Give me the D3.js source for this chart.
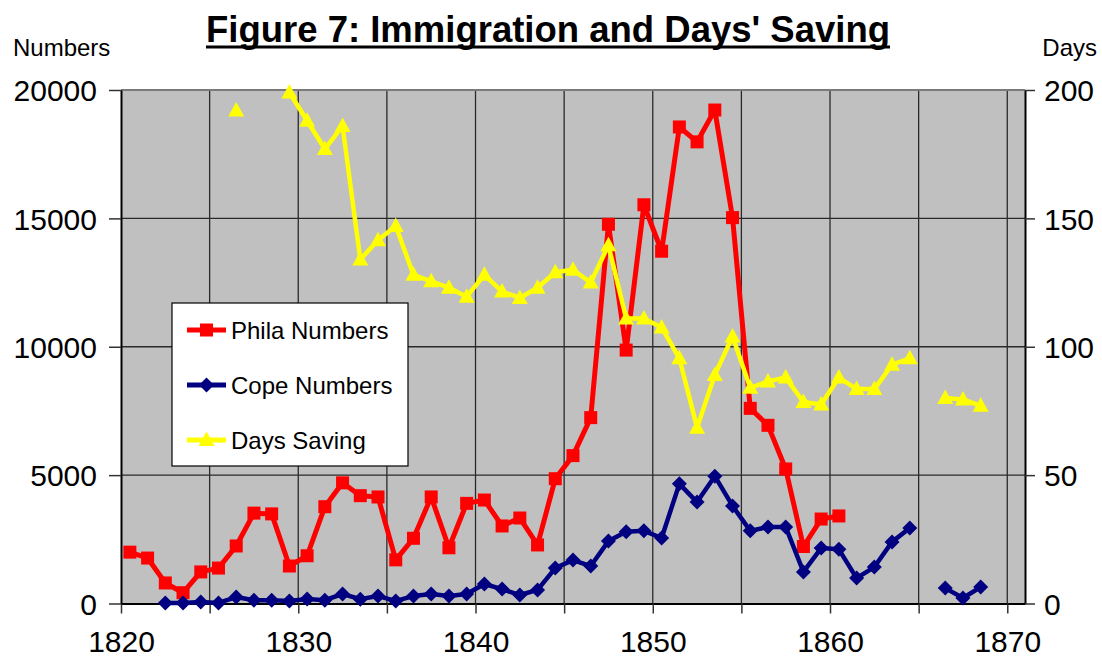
<!DOCTYPE html>
<html>
<head>
<meta charset="utf-8">
<script src="https://cdn.jsdelivr.net/npm/d3@7"></script>
<style>
  html, body { margin: 0; padding: 0; background: #ffffff; }
  svg { display: block; font-family: "Liberation Sans", Arial, sans-serif; }
</style>
</head>
<body>
<svg id="chart" width="1102" height="658"></svg>
<script>
// Years of the series (one point per year)
const years = [
  1820, 1821, 1822, 1823, 1824, 1825, 1826, 1827, 1828, 1829,
  1830, 1831, 1832, 1833, 1834, 1835, 1836, 1837, 1838, 1839,
  1840, 1841, 1842, 1843, 1844, 1845, 1846, 1847, 1848, 1849,
  1850, 1851, 1852, 1853, 1854, 1855, 1856, 1857, 1858, 1859,
  1860, 1861, 1862, 1863, 1864, 1865, 1866, 1867, 1868
];

// Immigrant numbers arriving at Philadelphia
const philaNumbers = [
  2000, 1770, 800, 420, 1230, 1380, 2240, 3520, 3490, 1460,
  1860, 3770, 4700, 4200, 4150, 1700, 2540, 4150, 2170, 3900,
  4030, 3020, 3330, 2280, 4860, 5760, 7240, 14770, 9870, 15530,
  13720, 18560, 17980, 19220, 15030, 7600, 6940, 5240, 2220, 3290,
  3410, null, null, null, null, null, null, null, null
];

// Passengers carried by the Cope line
const copeNumbers = [
  null, null, 20, 20, 60, 20, 250, 130, 130, 100,
  175, 130, 370, 170, 290, 100, 290, 370, 290, 370,
  760, 560, 330, 530, 1380, 1690, 1460, 2430, 2790, 2830,
  2550, 4660, 3950, 4960, 3800, 2830, 2980, 2980, 1230, 2160,
  2110, 990, 1420, 2400, 2940, null, 600, 215, 640
];

// Days saved on the crossing (right axis)
const daysSaving = [
  null, null, null, null, null, null, 192, null, null, 199,
  188, 177, 186, 134, 141.5, 147, 128, 125.5, 123, 119.5,
  128, 121.5, 119, 123, 129, 130, 125, 139.5, 111, 111,
  107.5, 95.5, 68.5, 89, 104, 84, 86.5, 88, 78.5, 77.5,
  88, 83.5, 83.5, 93, 95.5, null, 80, 79.5, 77
];

const xTickYears = [1820, 1830, 1840, 1850, 1860, 1870];
const xGridYears = [1825, 1830, 1835, 1840, 1845, 1850, 1855, 1860, 1865, 1870];
const leftTicks = [0, 5000, 10000, 15000, 20000];
const rightTicks = [0, 50, 100, 150, 200];

const seriesNames = ["Phila Numbers", "Cope Numbers", "Days Saving"];
const seriesColors = ["#ff0000", "#000080", "#ffff00"];

// ---- layout ----
const plot = { left: 121, right: 1025, top: 90, bottom: 603.5 };
const svg = d3.select("#chart");

const x = d3.scaleLinear().domain([1820, 1871]).range([plot.left, plot.right]);
const yLeft = d3.scaleLinear().domain([0, 20000]).range([plot.bottom, plot.top]);
const yRight = d3.scaleLinear().domain([0, 200]).range([plot.bottom, plot.top]);

// each yearly value sits in the middle of its year
const xPos = yr => x(yr + 0.5);

// plot background
svg.append("rect")
  .attr("x", plot.left).attr("y", plot.top)
  .attr("width", plot.right - plot.left).attr("height", plot.bottom - plot.top)
  .attr("fill", "#c0c0c0");

// gridlines
const grid = svg.append("g").attr("stroke", "#2a2a2a").attr("stroke-width", 1.3);
grid.selectAll("line.v").data(xGridYears).join("line")
  .attr("x1", d => x(d)).attr("x2", d => x(d))
  .attr("y1", plot.top).attr("y2", plot.bottom);
grid.selectAll("line.h").data(leftTicks.filter(d => d > 0 && d < 20000)).join("line")
  .attr("x1", plot.left).attr("x2", plot.right)
  .attr("y1", d => yLeft(d)).attr("y2", d => yLeft(d));

// plot frame: grey top edge
svg.append("line").attr("x1", plot.left).attr("x2", plot.right)
  .attr("y1", plot.top).attr("y2", plot.top)
  .attr("stroke", "#7a7a7a").attr("stroke-width", 2);

// axes
const axisStyle = g => {
  g.select(".domain").attr("stroke", "#000").attr("stroke-width", 2);
  g.selectAll(".tick line").attr("stroke", "#333").attr("stroke-width", 1.5);
  g.selectAll(".tick text").attr("fill", "#000")
    .style("font-family", "'Liberation Sans', Arial, sans-serif")
    .style("font-size", "30px");
};

svg.append("g")
  .attr("transform", `translate(0,${plot.bottom})`)
  .call(d3.axisBottom(x).tickValues([1820].concat(xGridYears)).tickSize(10).tickSizeOuter(0)
    .tickFormat(d => xTickYears.includes(d) ? String(d) : ""))
  .call(axisStyle)
  .call(g => g.selectAll(".tick text").attr("dy", 0).attr("y", 48));

svg.append("g")
  .attr("transform", `translate(${plot.left},0)`)
  .call(d3.axisLeft(yLeft).tickValues(leftTicks).tickSize(12).tickSizeOuter(0)
    .tickFormat(d3.format("d")))
  .call(axisStyle)
  .call(g => g.selectAll(".tick text").attr("x", -24).attr("dy", "0.36em"));

svg.append("g")
  .attr("transform", `translate(${plot.right},0)`)
  .call(d3.axisRight(yRight).tickValues(rightTicks).tickSize(10).tickSizeOuter(0)
    .tickFormat(d3.format("d")))
  .call(axisStyle)
  .call(g => g.selectAll(".tick text").attr("x", 19).attr("dy", "0.36em"));

// axis titles
svg.append("text").attr("x", 13).attr("y", 56)
  .style("font-size", "24px").attr("fill", "#000").text("Numbers");
svg.append("text").attr("x", 1097).attr("y", 56).attr("text-anchor", "end")
  .style("font-size", "24px").attr("fill", "#000").text("Days");

// title with underline
const title = svg.append("text")
  .attr("x", 548).attr("y", 42).attr("text-anchor", "middle")
  .style("font-size", "36.5px").style("font-weight", "bold").attr("fill", "#000")
  .text("Figure 7: Immigration and Days' Saving");
const tw = title.node().getComputedTextLength();
svg.append("rect").attr("x", 548 - tw / 2).attr("y", 45.5)
  .attr("width", tw).attr("height", 3).attr("fill", "#000");

// ---- markers ----
const markerShapes = [
  (g, cx, cy) => g.append("rect").attr("x", cx - 6.5).attr("y", cy - 6.5).attr("width", 13).attr("height", 13),
  (g, cx, cy) => g.append("path").attr("d", `M${cx},${cy - 7.5}L${cx + 7.5},${cy}L${cx},${cy + 7.5}L${cx - 7.5},${cy}Z`),
  (g, cx, cy) => g.append("path").attr("d", `M${cx},${cy - 8.5}L${cx + 8},${cy + 6}L${cx - 8},${cy + 6}Z`)
];

const series = [
  { values: philaNumbers, y: yLeft, width: 5 },
  { values: copeNumbers, y: yLeft, width: 4.5 },
  { values: daysSaving, y: yRight, width: 4.5 }
];

const dataLayer = svg.append("g");
series.forEach((s, i) => {
  const pts = years.map((yr, k) => ({ yr, v: s.values[k] }));
  const line = d3.line()
    .defined(d => d.v !== null)
    .x(d => xPos(d.yr)).y(d => s.y(d.v));
  const g = dataLayer.append("g");
  g.append("path").datum(pts).attr("d", line)
    .attr("fill", "none").attr("stroke", seriesColors[i])
    .attr("stroke-width", s.width).attr("stroke-linejoin", "round");
  const mg = g.append("g").attr("fill", seriesColors[i]);
  pts.filter(d => d.v !== null).forEach(d => markerShapes[i](mg, xPos(d.yr), s.y(d.v)));
});

// ---- legend ----
const legend = svg.append("g");
legend.append("rect").attr("x", 172).attr("y", 303).attr("width", 236).attr("height", 163)
  .attr("fill", "#ffffff").attr("stroke", "#000").attr("stroke-width", 1.2);
seriesNames.forEach((name, i) => {
  const cy = 330 + i * 55;
  legend.append("line").attr("x1", 187).attr("x2", 226).attr("y1", cy).attr("y2", cy)
    .attr("stroke", seriesColors[i]).attr("stroke-width", 5);
  const mg = legend.append("g").attr("fill", seriesColors[i]);
  markerShapes[i](mg, 206.5, cy);
  legend.append("text").attr("x", 231).attr("y", cy + 8.5)
    .style("font-size", "24px").attr("fill", "#000").text(name);
});
</script>
</body>
</html>
